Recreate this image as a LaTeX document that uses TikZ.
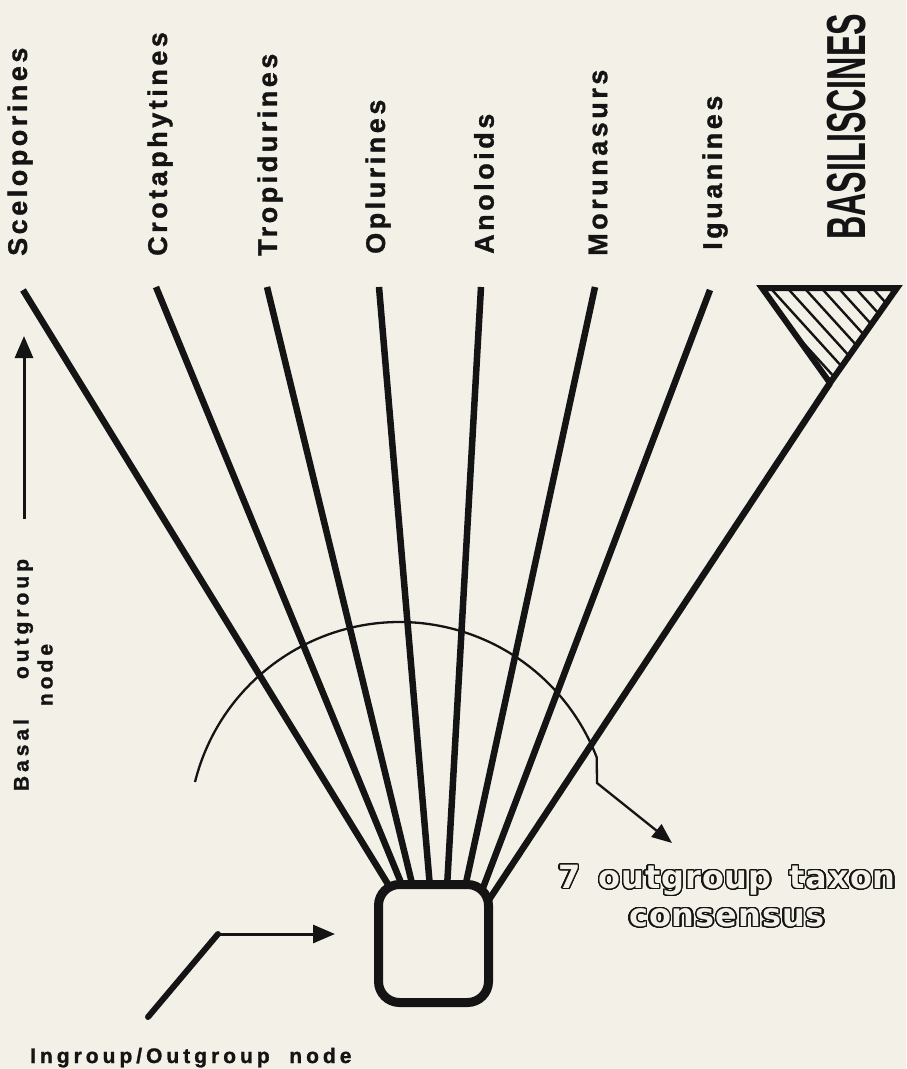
\documentclass[tikz,border=0pt]{standalone}
\usepackage{fontspec}
\usepackage{graphicx}
\usepackage{contour}
\usetikzlibrary{arrows.meta}
\newfontfamily\lblfont{Liberation Sans}[LetterSpace=13,FakeBold=1.2]
\newfontfamily\smlfont{Liberation Sans}[LetterSpace=19,FakeBold=1.2]
\newfontfamily\capsfont{Liberation Sans}
\newfontfamily\outfont{DejaVu Sans}[LetterSpace=3]
\definecolor{bgc}{HTML}{F3F0E8}
\definecolor{ink}{HTML}{141414}
\contourlength{1.3pt}
\contournumber{32}
\begin{document}
\begin{tikzpicture}[x=1pt,y=-1pt,
  every node/.style={text=ink},
  lbl/.style={rotate=90, anchor=west, inner sep=0pt, font=\lblfont\bfseries\fontsize{27}{30}\selectfont},
  branch/.style={draw=ink, line width=6.5pt},
  thinline/.style={draw=ink, line width=2.3pt},
  tiparrow/.style={draw=ink, line width=3pt, -{Triangle[length=22pt,width=18pt]}},
]
\fill[bgc] (0,0) rectangle (906,1069);
\useasboundingbox (0,0) rectangle (906,1069);

% taxon labels
\node[lbl] (sce) at (20,256) {Sceloporines};
\node[lbl] (cro) at (160,256) {Crotaphytines};
\node[lbl] (tro) at (270,256) {Tropidurines};
\node[lbl] (opl) at (378,254) {Oplurines};
\node[lbl] (ano) at (484,254) {Anoloids};
\node[lbl] (mor) at (598,256) {Morunasurs};
\node[lbl] (igu) at (715,250) {Iguanines};
\node[rotate=90, anchor=west, inner sep=0pt, font=\capsfont\bfseries\fontsize{55}{60}\selectfont] (bas) at (847,240) {\resizebox{226pt}{\height}{BASILISCINES}};

% ingroup/outgroup node
\node[draw=ink, line width=9pt, rounded corners=21pt, minimum width=110pt, minimum height=118pt, inner sep=0pt, outer sep=0pt] (io) at (433.5,943.5) {};

% branch tops
\coordinate (t1) at (23,290);
\coordinate (t2) at (156,287);
\coordinate (t3) at (267,287);
\coordinate (t4) at (379,287);
\coordinate (t5) at (481,287);
\coordinate (t6) at (595,287);
\coordinate (t7) at (710,290);

\draw[branch] (t1) -- ([xshift=-43.5pt,yshift=-3pt]io.north);
\draw[branch] (t2) -- ([xshift=-30.5pt,yshift=-3pt]io.north);
\draw[branch] (t3) -- ([xshift=-20.5pt,yshift=-3pt]io.north);
\draw[branch] (t4) -- ([xshift=-3.5pt,yshift=-3pt]io.north);
\draw[branch] (t5) -- ([xshift=13.5pt,yshift=-3pt]io.north);
\draw[branch] (t6) -- ([xshift=31.5pt,yshift=-3pt]io.north);
\draw[branch] (t7) -- ([xshift=48.5pt,yshift=-6pt]io.north);

% basiliscine triangle
\coordinate (tl) at (762,288);
\coordinate (tr) at (897,288);
\coordinate (ap) at (830,383);
\begin{scope}
  \clip (tl) -- (tr) -- (ap) -- cycle;
  \foreach \k in {-4,...,7} {
    \draw[ink, line width=2.4pt] (771+17*\k,270) -- ++(130,143);
  }
\end{scope}
\draw[ink, line width=6pt, line join=miter] (tl) -- (tr) -- (ap) -- cycle;
\draw[branch] (ap) -- ([xshift=-1pt,yshift=41.5pt]io.east);

% consensus arc and arrow
\coordinate (arcs) at (195,782);
\coordinate (bend) at (597,783);
\coordinate (atip) at (672,843);
\draw[thinline, -{Triangle[length=20pt,width=16pt]}] (arcs) arc[start angle=-166, end angle=-21, radius=211] -- (bend) -- (atip);

\node[anchor=north, align=center, inner sep=0pt, font=\outfont\bfseries\fontsize{32}{38}\selectfont] (cons) at (727,865)
  {\textcolor{bgc}{\contour{ink}{7}}\hspace{18pt}\textcolor{bgc}{\contour{ink}{outgroup}}\hspace{18pt}\textcolor{bgc}{\contour{ink}{taxon}}\\\textcolor{bgc}{\contour{ink}{consensus}}};

% ingroup/outgroup label and arrow
\node[anchor=base west, inner sep=0pt, font=\smlfont\bfseries\fontsize{21}{25}\selectfont] (ing) at (30,1063) {Ingroup/Outgroup\ \ node};
\coordinate (ia) at (148,1017);
\coordinate (ib) at (218,934);
\draw[ink, line width=6pt, line cap=round] (ia) -- (ib);
\draw[tiparrow, shorten >=43.5pt] (ib) -- (ib -| io.west);

% basal outgroup node label and arrow
\node[rotate=90, align=center, inner sep=0pt, font=\smlfont\bfseries\fontsize{21}{24}\selectfont] (basal) at (33,675) {Basal\hspace{40pt}outgroup\\node};
\coordinate (ba1) at (24,519);
\coordinate (ba2) at (24,336);
\draw[tiparrow] (ba1) -- (ba2);
\end{tikzpicture}
\end{document}
